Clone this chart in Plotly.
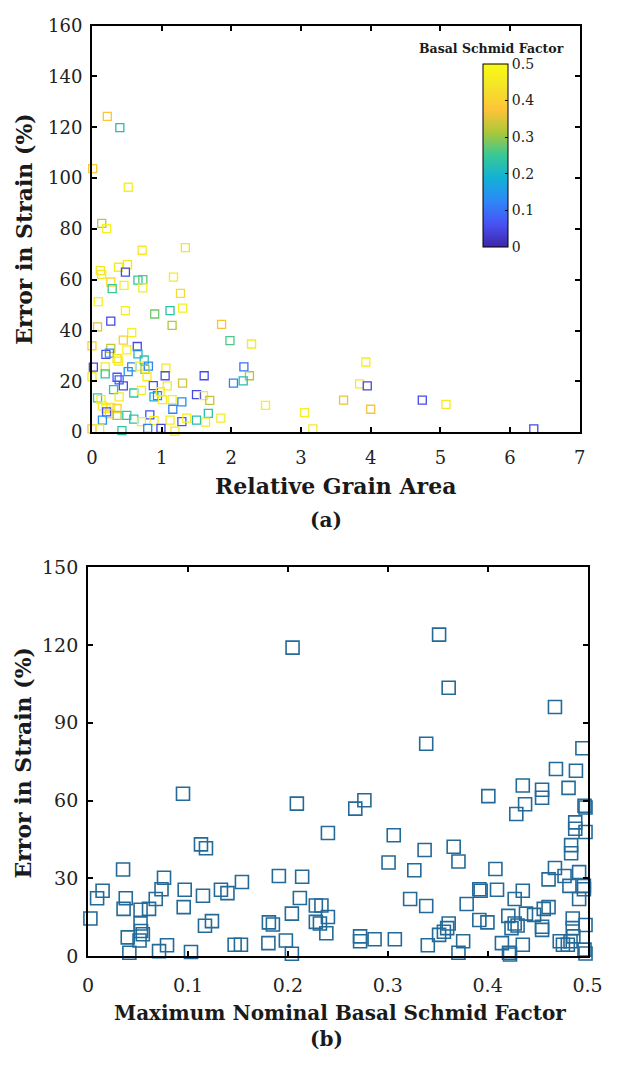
import plotly.graph_objects as go

W, H = 617, 1066

# ---------------- data (a) ----------------
a_area = [0.22, 0.40, 0.01, 0.52, 0.14, 0.21, 0.72, 1.34, 0.12, 0.14, 0.38, 0.51, 0.48, 0.27, 0.29,
          0.46, 0.66, 0.73, 0.73, 1.17, 1.27, 1.30, 1.12, 0.90, 0.48, 0.09, 0.27, 1.15, 1.86, 0.08,
          0.57, 1.98, 2.29, 0.00, 0.45, 0.27, 0.65, 0.50, 0.20, 0.25, 0.66, 0.36, 0.38, 0.75, 0.19,
          0.02, 0.57, 0.68, 0.81, 0.76, 1.06, 0.52, 0.19, 1.05, 1.61, 2.18, 2.26, 2.17, 2.03, 0.00,
          0.36, 0.79, 0.45, 0.39, 0.88, 1.08, 1.30, 0.31, 0.60, 0.71, 1.50, 1.60, 1.69, 0.39, 0.89,
          0.94, 0.98, 1.01, 1.15, 1.29, 0.08, 0.13, 0.15, 0.20, 0.27, 0.36, 1.16, 0.21, 0.25, 0.36,
          0.50, 0.60, 0.83, 1.67, 1.85, 0.15, 0.89, 1.29, 1.12, 1.36, 1.50, 1.63, 0.71, 0.80, 0.99,
          0.43, 0.00, 0.11, 1.19, 3.17, 3.05, 2.49, 3.93, 3.84, 3.95, 3.61, 4.00, 4.74, 5.08, 6.34]
a_error = [124.3, 119.9, 103.7, 96.4, 82.2, 80.1, 71.6, 72.6, 63.6, 62.1, 64.9, 65.9, 63.0, 59.1, 56.5,
           57.8, 59.8, 60.0, 56.8, 61.0, 54.6, 48.8, 47.8, 46.5, 47.8, 51.4, 43.7, 42.0, 42.4, 41.4,
           39.2, 36.0, 34.7, 34.0, 36.2, 33.0, 33.7, 32.4, 30.6, 31.1, 30.8, 28.9, 28.0, 28.4, 25.7,
           25.6, 25.7, 26.0, 26.0, 24.7, 25.2, 23.8, 22.9, 22.2, 22.2, 25.7, 22.2, 20.2, 19.3, 21.8,
           21.6, 21.8, 18.2, 20.6, 18.3, 18.2, 19.3, 16.7, 15.4, 16.4, 14.8, 14.4, 12.5, 13.9, 13.9,
           14.4, 15.9, 12.8, 12.8, 11.9, 13.5, 12.8, 10.3, 9.3, 9.7, 9.3, 9.0, 8.0, 7.2, 6.6,
           6.6, 5.1, 6.8, 7.4, 5.5, 4.7, 4.5, 4.1, 4.7, 5.5, 4.7, 3.9, 4.1, 1.5, 1.5,
           0.6, 1.3, 1.3, 0.4, 1.3, 7.7, 10.5, 27.6, 19.0, 18.2, 12.6, 9.0, 12.6, 10.9, 1.3]
a_schmid = [0.38, 0.22, 0.38, 0.47, 0.33, 0.47, 0.45, 0.44, 0.45, 0.45, 0.46, 0.44, 0.05, 0.42, 0.25,
            0.47, 0.24, 0.27, 0.47, 0.46, 0.42, 0.47, 0.23, 0.28, 0.46, 0.47, 0.05, 0.32, 0.37, 0.35,
            0.47, 0.26, 0.46, 0.40, 0.40, 0.33, 0.05, 0.47, 0.06, 0.15, 0.20, 0.42, 0.47, 0.24, 0.46,
            0.05, 0.13, 0.46, 0.12, 0.30, 0.45, 0.14, 0.24, 0.06, 0.05, 0.10, 0.32, 0.22, 0.12, 0.46,
            0.07, 0.46, 0.05, 0.08, 0.06, 0.46, 0.34, 0.23, 0.24, 0.46, 0.05, 0.46, 0.33, 0.46, 0.18,
            0.12, 0.46, 0.46, 0.46, 0.13, 0.24, 0.46, 0.47, 0.47, 0.46, 0.40, 0.12, 0.06, 0.38, 0.32,
            0.24, 0.23, 0.06, 0.23, 0.46, 0.14, 0.46, 0.07, 0.46, 0.46, 0.22, 0.46, 0.46, 0.12, 0.05,
            0.24, 0.38, 0.46, 0.45, 0.45, 0.47, 0.47, 0.47, 0.46, 0.05, 0.36, 0.37, 0.05, 0.45, 0.05]

# ---------------- data (b) ----------------
b_schmid = [0.2047, 0.3514, 0.361, 0.4674, 0.3385, 0.4949, 0.4684, 0.4884, 0.4352, 0.4545, 0.4545, 0.481,
            0.4007, 0.4375, 0.4287, 0.2766, 0.2675, 0.095, 0.209, 0.2401, 0.306, 0.498, 0.497, 0.4877,
            0.4877, 0.498, 0.4836, 0.4836, 0.3369, 0.366, 0.3708, 0.3008, 0.3266, 0.4078, 0.4674, 0.461,
            0.477, 0.4916, 0.4819, 0.4964, 0.4964, 0.4916, 0.3917, 0.393, 0.4094, 0.4352, 0.4271, 0.3224,
            0.3385, 0.379, 0.3917, 0.3998, 0.4207, 0.4384, 0.4271, 0.43, 0.4239, 0.4465, 0.4562, 0.461,
            0.4545, 0.4545, 0.4852, 0.498, 0.4852, 0.361, 0.3595, 0.3562, 0.3514, 0.2336, 0.2401, 0.2321,
            0.2385, 0.2723, 0.2723, 0.2868, 0.3071, 0.3401, 0.3755, 0.3708, 0.4143, 0.4352, 0.4214, 0.4224,
            0.4722, 0.4754, 0.4803, 0.483, 0.4858, 0.497, 0.498, 0.2143, 0.212, 0.228, 0.228,
            0.113, 0.118, 0.035, 0.076, 0.191, 0.154, 0.0145, 0.009, 0.0735, 0.0967, 0.133, 0.1395,
            0.115, 0.0377, 0.0677, 0.0023, 0.0355, 0.0525, 0.061, 0.0957, 0.204, 0.0525, 0.117, 0.124,
            0.181, 0.185, 0.0397, 0.053, 0.0548, 0.0515, 0.198, 0.079, 0.1467, 0.153, 0.1805, 0.0413,
            0.071, 0.103, 0.204]
b_error = [119.0, 124.0, 103.5, 96.1, 81.9, 80.2, 72.2, 71.5, 65.8, 64.2, 61.1, 64.9,
           61.7, 58.6, 54.8, 60.1, 56.9, 62.6, 58.8, 47.5, 46.6, 57.3, 58.0, 51.6,
           49.1, 47.9, 42.8, 39.7, 40.9, 42.2, 36.5, 36.1, 33.1, 33.6, 34.0, 29.6,
           30.9, 32.4, 27.1, 27.1, 25.8, 22.0, 25.8, 25.2, 25.6, 25.2, 22.0, 22.0,
           19.3, 20.1, 13.9, 13.0, 15.5, 16.4, 12.6, 11.8, 10.8, 15.9, 18.2, 18.9,
           11.3, 10.1, 14.5, 12.0, 10.8, 12.6, 10.8, 9.4, 8.2, 19.5, 15.1, 12.6,
           8.8, 7.6, 5.7, 6.5, 6.5, 4.2, 5.7, 1.3, 5.0, 4.4, 1.3, 0.6,
           5.7, 4.4, 4.4, 5.7, 7.6, 2.5, 1.0, 30.6, 22.4, 19.5, 13.2,
           43.1, 41.6, 33.4, 30.2, 30.9, 28.6, 25.2, 22.3, 25.8, 25.6, 25.6, 24.3,
           23.3, 22.3, 22.0, 14.5, 18.2, 17.9, 18.2, 18.9, 16.4, 12.6, 11.7, 13.5,
           13.0, 12.2, 7.2, 9.7, 8.4, 6.0, 6.0, 4.2, 4.4, 4.4, 5.0, 1.3,
           1.9, 1.6, 0.9]

a_xticks = [0, 1, 2, 3, 4, 5, 6, 7]
a_yticks = [0, 20, 40, 60, 80, 100, 120, 140, 160]
b_xticks = [0, 0.1, 0.2, 0.3, 0.4, 0.5]
b_xticklabels = ["0", "0.1", "0.2", "0.3", "0.4", "0.5"]
b_yticks = [0, 30, 60, 90, 120, 150]
cb_ticks = [0, 0.1, 0.2, 0.3, 0.4, 0.5]
cb_ticklabels = ["0", "0.1", "0.2", "0.3", "0.4", "0.5"]

parula = [
    [0.000, "rgb(62,38,168)"],
    [0.125, "rgb(72,82,244)"],
    [0.250, "rgb(46,135,247)"],
    [0.375, "rgb(18,177,214)"],
    [0.500, "rgb(55,200,151)"],
    [0.625, "rgb(171,199,57)"],
    [0.750, "rgb(254,195,56)"],
    [0.875, "rgb(243,228,40)"],
    [1.000, "rgb(249,251,21)"],
]

SERIF = "DejaVu Serif"

def px_x(v):
    return v / W

def px_y(v):
    return 1 - v / H

fig = go.Figure()

fig.add_trace(go.Scatter(
    x=a_area, y=a_error, mode="markers", xaxis="x", yaxis="y",
    cliponaxis=False,
    marker=dict(symbol="square-open", size=8, color=a_schmid, coloraxis="coloraxis",
                line=dict(width=1.3)),
    showlegend=False,
))

fig.add_trace(go.Scatter(
    x=b_schmid, y=b_error, mode="markers", xaxis="x2", yaxis="y2",
    cliponaxis=False,
    marker=dict(symbol="square-open", size=13, color="#236a98", line=dict(width=1.6)),
    showlegend=False,
))

axis_common = dict(
    showline=True, linecolor="black", linewidth=2, mirror="ticks",
    ticks="inside", ticklen=5, tickwidth=2, tickcolor="black",
    showgrid=False, zeroline=False,
)

fig.update_layout(
    width=W, height=H,
    margin=dict(l=0, r=0, t=0, b=0),
    paper_bgcolor="white", plot_bgcolor="white",
    xaxis=dict(domain=[px_x(89), px_x(594)], range=[0, 7], tickvals=a_xticks,
               anchor="y", ticklabelstandoff=8,
               tickfont=dict(family=SERIF, size=18, color="#222"), **axis_common),
    yaxis=dict(domain=[px_y(430), px_y(15)], range=[0, 160], tickvals=a_yticks,
               anchor="x", ticklabelstandoff=4,
               tickfont=dict(family=SERIF, size=18, color="#222"), **axis_common),
    xaxis2=dict(domain=[px_x(85), px_x(602)], range=[0, 0.5], tickvals=b_xticks,
                ticktext=b_xticklabels, anchor="y2", ticklabelstandoff=11,
                tickfont=dict(family=SERIF, size=19, color="#222"), **axis_common),
    yaxis2=dict(domain=[px_y(965), px_y(568)], range=[0, 150], tickvals=b_yticks,
                anchor="x2", ticklabelstandoff=4,
                tickfont=dict(family=SERIF, size=19, color="#222"), **axis_common),
    coloraxis=dict(
        cmin=0, cmax=0.5, colorscale=parula,
        colorbar=dict(
            xref="paper", yref="paper",
            x=px_x(494), xanchor="left", y=px_y(54), yanchor="top",
            len=183, lenmode="pixels", thickness=25, thicknessmode="pixels",
            xpad=0, ypad=0, outlinecolor="black", outlinewidth=1,
            tickvals=cb_ticks, ticktext=cb_ticklabels,
            ticks="inside", ticklen=3, tickcolor="black",
            tickfont=dict(family=SERIF, size=14, color="#222"),
        ),
    ),
)

def ann(text, x, y, size, angle=0):
    fig.add_annotation(text=text, xref="paper", yref="paper", x=px_x(x), y=px_y(y),
                       xanchor="center", yanchor="middle", showarrow=False, textangle=angle,
                       font=dict(family=SERIF, size=size, color="#1a1a1a"))

ann("<b>Basal Schmid Factor</b>", 503, 38, 12.5)
ann("<b>Relative Grain Area</b>", 341, 485, 22)
ann("<b>Error in Strain (%)</b>", 19, 222, 22, -90)
ann("<b>(a)</b>", 331, 520, 20)
ann("<b>Maximum Nominal Basal Schmid Factor</b>", 346, 1023, 20)
ann("<b>Error in Strain (%)</b>", 18, 767, 22, -90)
ann("<b>(b)</b>", 332, 1050, 20)

fig.write_html("out.html")
